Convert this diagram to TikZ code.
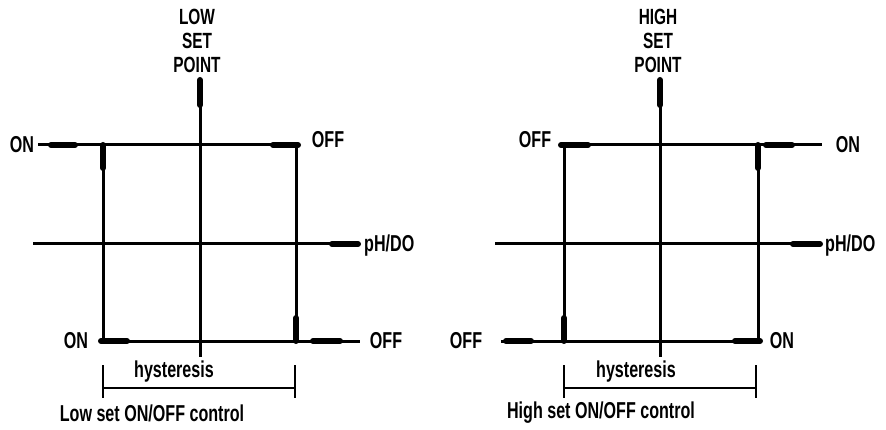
\documentclass[tikz,border=0pt]{standalone}
\usepackage{fontspec}
\setmainfont{Liberation Sans}[FakeStretch=0.7]
\begin{document}
\begin{tikzpicture}[x=1pt,y=-1pt,
  thin line/.style={line width=3pt},
  thick seg/.style={line width=6pt,line cap=round},
  dim line/.style={line width=2pt},
  lbl/.style={font=\fontsize{23}{26}\selectfont\bfseries,inner sep=0pt},
  ttl/.style={font=\fontsize{22}{24}\selectfont\bfseries,inner sep=0pt,align=center}]
\useasboundingbox (0,0) rectangle (886,430);
\fill[white] (0,0) rectangle (886,430);
% ---------------- Left diagram ----------------
\draw[thin line] (38,145) -- (298,145);
\draw[thick seg] (51,145) -- (75,145);
\draw[thick seg] (273,145) -- (298,145);
\draw[thin line] (103,145) -- (103,341);
\draw[thick seg] (103,145) -- (103,168);
\draw[thin line] (200,80) -- (200,357);
\draw[thick seg] (200,80) -- (200,105);
\draw[thin line] (296,145) -- (296,341);
\draw[thick seg] (296,318) -- (296,341);
\draw[thin line] (33,244) -- (358,244);
\draw[thick seg] (332,244) -- (358,244);
\draw[thin line] (101,341) -- (360,341);
\draw[thick seg] (101,341) -- (127,341);
\draw[thick seg] (313,341) -- (340,341);
\draw[dim line] (103,365) -- (103,398);
\draw[dim line] (295,365) -- (295,398);
\draw[dim line] (103,388) -- (295,388);
\node[ttl] (ltitle) at (197,41) {LOW\\SET\\POINT};
\node[lbl] (lon1) at (22,145) {ON};
\node[lbl] (loff1) at (328,140) {OFF};
\node[lbl,anchor=west] (lph) at (364,246) {pH/DO};
\node[lbl] (lon2) at (76,341) {ON};
\node[lbl] (loff2) at (386,341) {OFF};
\node[lbl] (lhys) at (174,372) {hysteresis};
\node[lbl] (lcap) at (152,413) {Low set ON/OFF control};
% ---------------- Right diagram ----------------
\draw[thin line] (561,145) -- (822,145);
\draw[thick seg] (561,145) -- (588,145);
\draw[thick seg] (766,145) -- (792,145);
\draw[thin line] (564,145) -- (564,341);
\draw[thick seg] (564,318) -- (564,341);
\draw[thin line] (660,80) -- (660,357);
\draw[thick seg] (660,80) -- (660,105);
\draw[thin line] (758,145) -- (758,341);
\draw[thick seg] (758,145) -- (758,168);
\draw[thin line] (495,244) -- (820,244);
\draw[thick seg] (793,244) -- (820,244);
\draw[thin line] (501,341) -- (760,341);
\draw[thick seg] (506,341) -- (531,341);
\draw[thick seg] (735,341) -- (760,341);
\draw[dim line] (564,365) -- (564,398);
\draw[dim line] (756,365) -- (756,398);
\draw[dim line] (564,388) -- (756,388);
\node[ttl] (rtitle) at (658,41) {HIGH\\SET\\POINT};
\node[lbl] (roff1) at (535,140) {OFF};
\node[lbl] (ron1) at (848,145) {ON};
\node[lbl,anchor=west] (rph) at (825,246) {pH/DO};
\node[lbl] (roff2) at (466,341) {OFF};
\node[lbl] (ron2) at (782,341) {ON};
\node[lbl] (rhys) at (636,372) {hysteresis};
\node[lbl] (rcap) at (601,413) {High set ON/OFF control};
\end{tikzpicture}
\end{document}
